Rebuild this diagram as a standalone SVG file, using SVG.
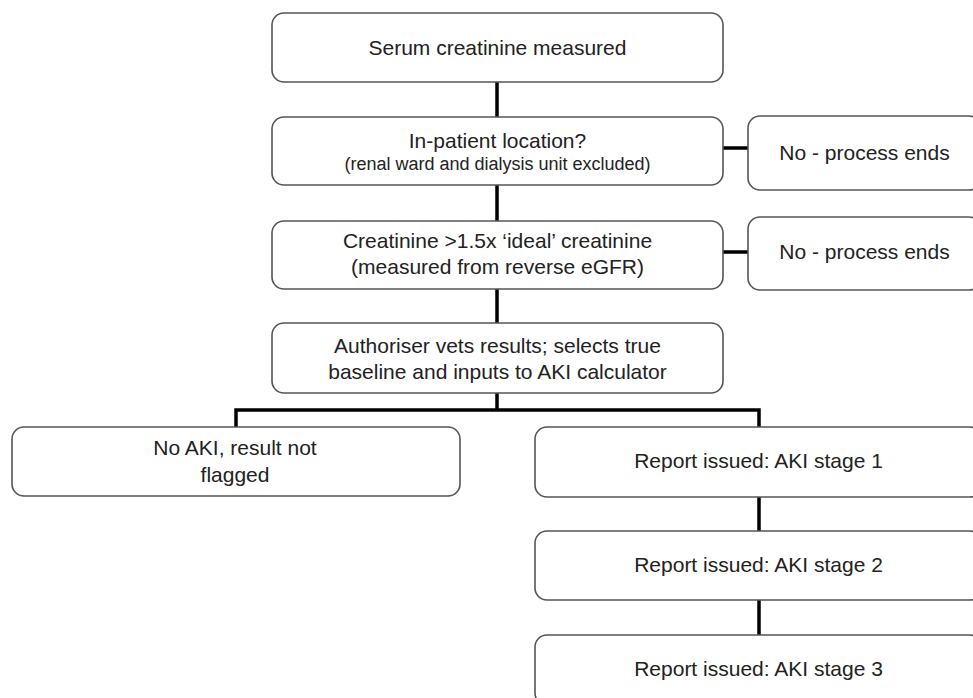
<svg xmlns="http://www.w3.org/2000/svg" width="973" height="698" viewBox="0 0 973 698">
<style>
.box{fill:#fff;stroke:#555;stroke-width:1.6}
.t{font-family:"Liberation Sans",Arial,sans-serif;font-size:21px;fill:#222;text-anchor:middle}
.s{font-family:"Liberation Sans",Arial,sans-serif;font-size:18px;fill:#222;text-anchor:middle}
.c{fill:none;stroke:#000;stroke-width:3.5}
</style>
<rect width="973" height="698" fill="#fff"/>
<g id="connectors">
<path class="c" d="M497,82V117M497,185V221M497,289V323M497,393V410"/>
<path class="c" d="M236,427V410H759V427"/>
<path class="c" d="M723,148H748M723,252H748"/>
<path class="c" d="M759,497V531M759,600V635"/>
</g>
<g id="serum">
<rect class="box" x="272" y="13" width="451" height="69" rx="12"/>
<text class="t" x="497.5" y="55">Serum creatinine measured</text>
</g>
<g id="inpatient">
<rect class="box" x="272" y="117" width="451" height="68" rx="12"/>
<text class="t" x="497.5" y="148">In-patient location?</text>
<text class="s" x="497.5" y="170">(renal ward and dialysis unit excluded)</text>
</g>
<g id="no1">
<rect class="box" x="748" y="116" width="233" height="74" rx="12"/>
<text class="t" x="864.5" y="160">No - process ends</text>
</g>
<g id="creatinine">
<rect class="box" x="272" y="221" width="451" height="68" rx="12"/>
<text class="t" x="497.5" y="248">Creatinine &gt;1.5x ‘ideal’ creatinine</text>
<text class="t" x="497.5" y="274">(measured from reverse eGFR)</text>
</g>
<g id="no2">
<rect class="box" x="748" y="217" width="233" height="73" rx="12"/>
<text class="t" x="864.5" y="259">No - process ends</text>
</g>
<g id="authoriser">
<rect class="box" x="272" y="323" width="451" height="70" rx="12"/>
<text class="t" x="497.5" y="353">Authoriser vets results; selects true</text>
<text class="t" x="497.5" y="379">baseline and inputs to AKI calculator</text>
</g>
<g id="noaki">
<rect class="box" x="12" y="427" width="448" height="69" rx="12"/>
<text class="t" x="235" y="455">No AKI, result not</text>
<text class="t" x="235" y="482">flagged</text>
</g>
<g id="stage1">
<rect class="box" x="535" y="427" width="447" height="70" rx="12"/>
<text class="t" x="758.5" y="468">Report issued: AKI stage 1</text>
</g>
<g id="stage2">
<rect class="box" x="535" y="531" width="447" height="69" rx="12"/>
<text class="t" x="758.5" y="572">Report issued: AKI stage 2</text>
</g>
<g id="stage3">
<rect class="box" x="535" y="635" width="447" height="70" rx="12"/>
<text class="t" x="758.5" y="676">Report issued: AKI stage 3</text>
</g>
</svg>
